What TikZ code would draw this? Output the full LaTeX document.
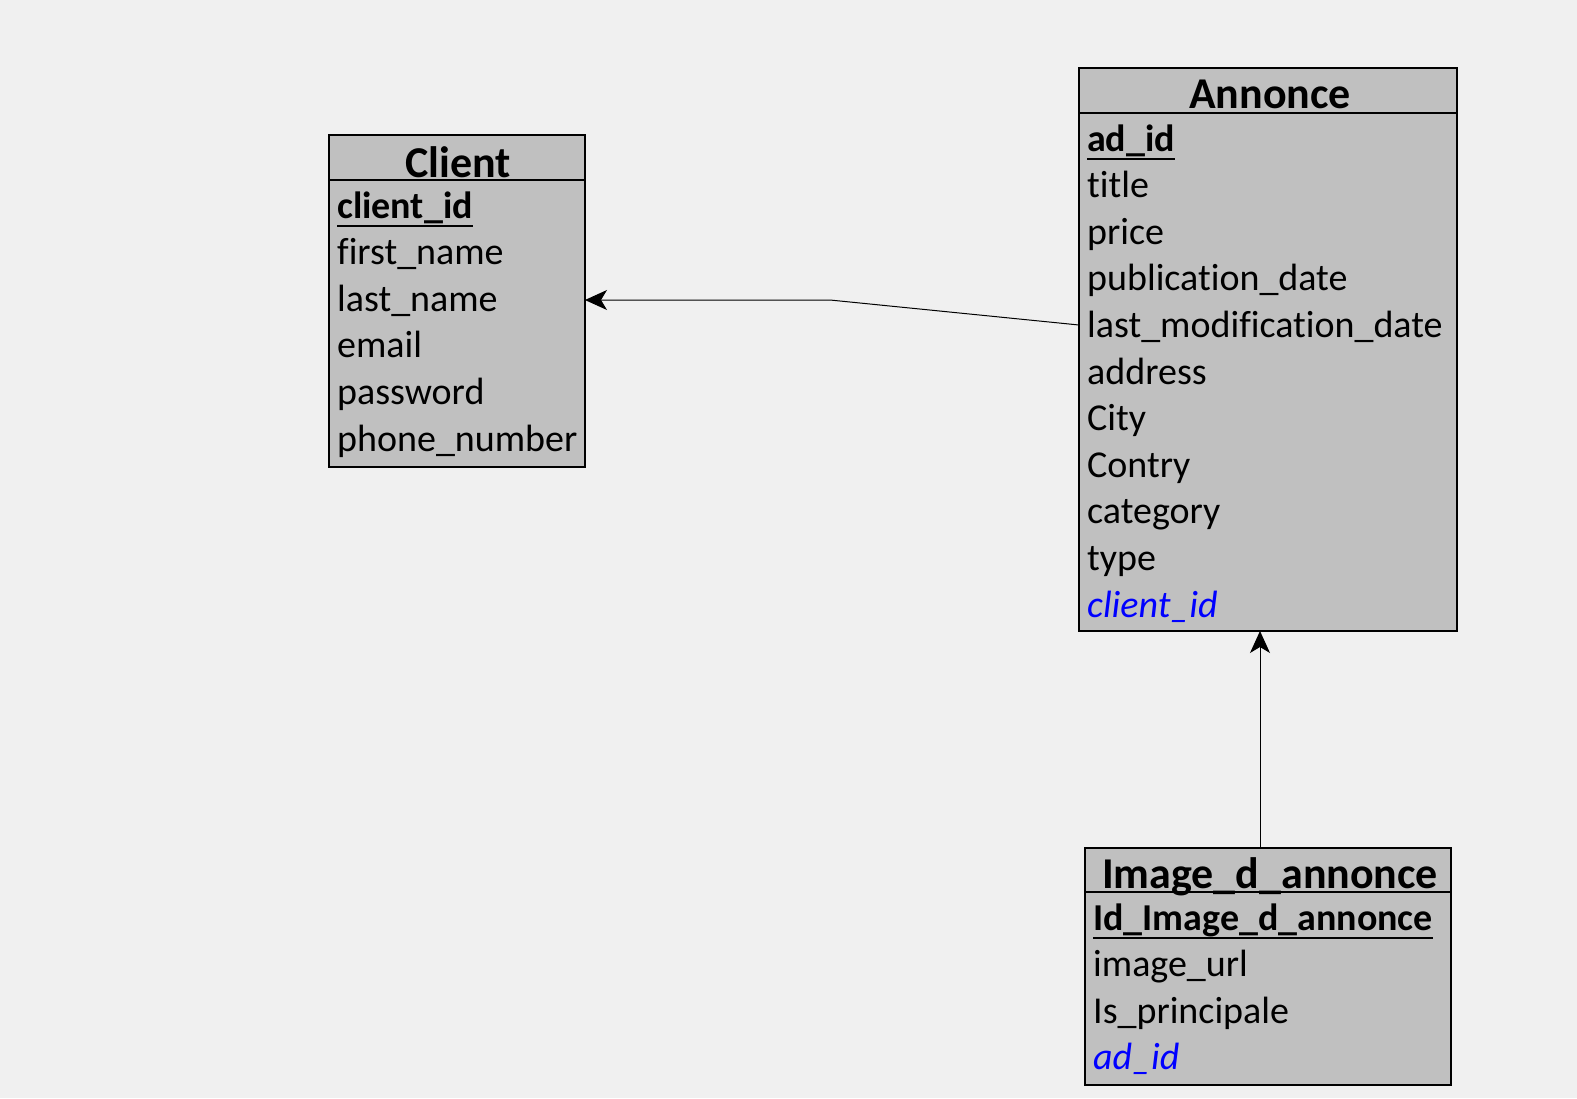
\documentclass[tikz,border=0pt]{standalone}
\usepackage{fontspec}
\setmainfont[Ligatures={NoCommon}]{Carlito}
\usetikzlibrary{arrows.meta}
\definecolor{bg}{HTML}{F0F0F0}
\definecolor{boxfill}{HTML}{C0C0C0}
\definecolor{fkblue}{HTML}{0000FF}
\tikzset{
 entity/.style={draw=black, line width=2pt, fill=boxfill, anchor=north west, inner sep=0pt, outer sep=0pt},
 etitle/.style={anchor=base, inner sep=0pt, font=\fontsize{44}{52}\selectfont\bfseries},
 field/.style={anchor=base west, inner sep=0pt, font=\fontsize{38}{46}\selectfont},
 pk/.style={field, font=\fontsize{38}{46}\selectfont\bfseries},
 fk/.style={field, font=\fontsize{38}{46}\selectfont\itshape, text=fkblue},
 hline/.style={draw=black, line width=2pt},
 ulin/.style={draw=black, line width=2.5pt},
 conn/.style={draw=black, line width=1pt, -{Stealth[length=22pt,width=20pt,inset=6pt]}}
}
\begin{document}
\begin{tikzpicture}[x=1pt,y=-1pt]
\fill[bg] (0,0) rectangle (1577,1098);
\useasboundingbox (0,0) rectangle (1577,1098);

% Client
\node[entity, minimum width=256pt, minimum height=332pt] (client) at (329,135) {};
\draw[hline] (329,180) -- (585,180);
\node[etitle] (ctitle) at (458,177) {Client};
\node[pk] (c1) at (337,218.0) {client\_id};
\node[field] (c2) at (337,264.6) {first\_name};
\node[field] (c3) at (337,311.2) {last\_name};
\node[field] (c4) at (337,357.8) {email};
\node[field] (c5) at (337,404.4) {password};
\node[field] (c6) at (337,451.0) {phone\_number};
\draw[ulin] ([yshift=-8pt]c1.base west) -- ([yshift=-8pt]c1.base east);

% Annonce
\node[entity, minimum width=378pt, minimum height=563pt] (annonce) at (1079,68) {};
\draw[hline] (1079,113) -- (1457,113);
\node[etitle] (atitle) at (1270,108) {Annonce};
\node[pk] (a1) at (1087,151.0) {ad\_id};
\node[field] (a2) at (1087,197.6) {title};
\node[field] (a3) at (1087,244.2) {price};
\node[field] (a4) at (1087,290.8) {publication\_date};
\node[field] (a5) at (1087,337.4) {last\_modification\_date};
\node[field] (a6) at (1087,384.0) {address};
\node[field] (a7) at (1087,430.6) {City};
\node[field] (a8) at (1087,477.2) {Contry};
\node[field] (a9) at (1087,523.8) {category};
\node[field] (a10) at (1087,570.4) {type};
\node[fk] (a11) at (1087,617.0) {client\_id};
\draw[ulin] ([yshift=-8pt]a1.base west) -- ([yshift=-8pt]a1.base east);

% Image_d_annonce
\node[entity, minimum width=366pt, minimum height=237pt] (img) at (1085,848) {};
\draw[hline] (1085,892) -- (1451,892);
\node[etitle] (ititle) at (1270,888) {Image\_d\_annonce};
\node[pk] (i1) at (1093,930.0) {Id\_Image\_d\_annonce};
\node[field] (i2) at (1093,976.6) {image\_url};
\node[field] (i3) at (1093,1023.2) {Is\_principale};
\node[fk] (i4) at (1093,1069.8) {ad\_id};
\draw[ulin] ([yshift=-8pt]i1.base west) -- ([yshift=-8pt]i1.base east);

% Connectors
\coordinate (bend) at (830,300);
\coordinate (vx) at (1260,0);
\coordinate (ay) at (0,325);
\draw[conn] (annonce.west |- ay) -- (bend) -- (client.east |- bend);
\draw[conn] (img.north -| vx) -- (annonce.south -| vx);
\end{tikzpicture}
\end{document}
